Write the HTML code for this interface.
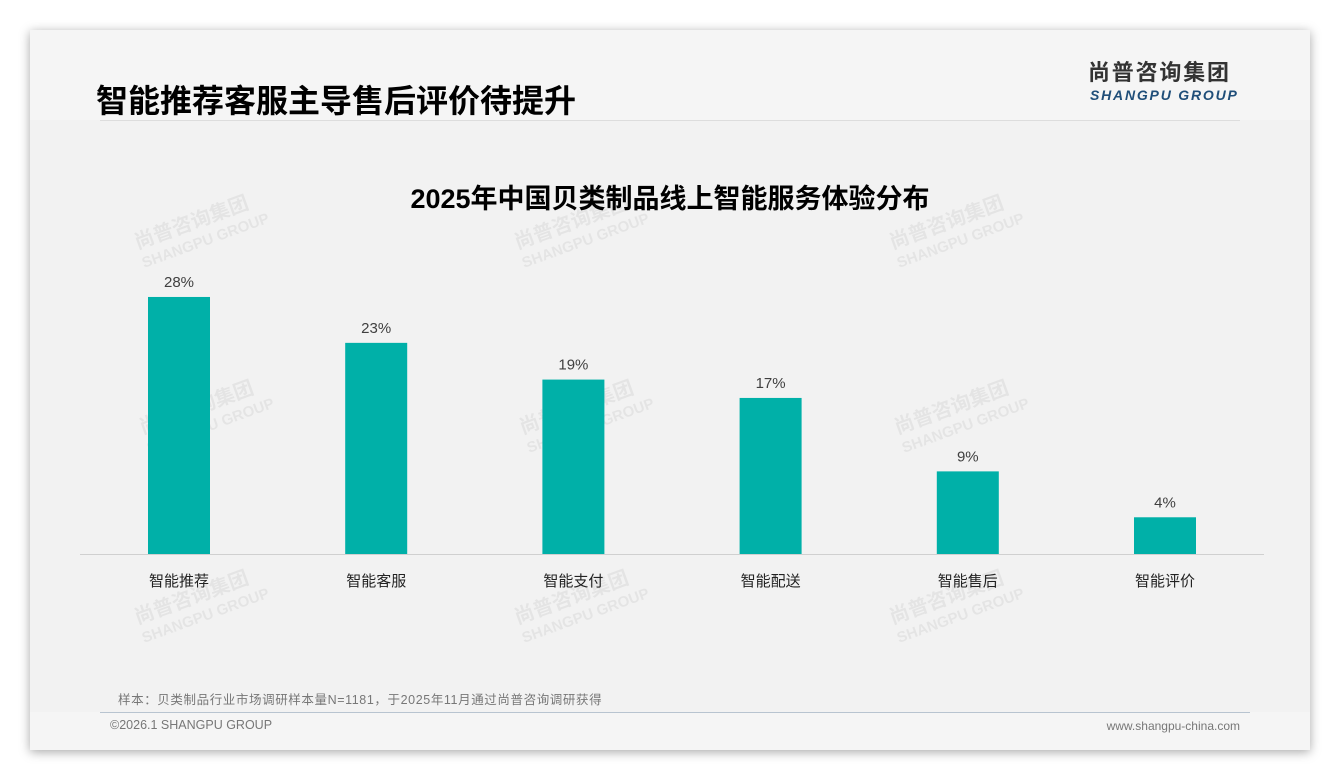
<!DOCTYPE html>
<html><head><meta charset="utf-8"><style>
body{margin:0;width:1340px;height:780px;background:#fff;font-family:"Liberation Sans","Noto Sans CJK SC",sans-serif;position:relative;overflow:hidden}
.slide{position:absolute;left:30px;top:30px;width:1280px;height:720px;background:#f5f5f5;box-shadow:0 2px 10px rgba(0,0,0,.35)}
.body{position:absolute;left:30px;top:120px;width:1280px;height:592px;background:#f2f2f2}
.wm{position:absolute;color:#000;opacity:.05;font-weight:bold;transform:rotate(-20deg);font-size:20px;line-height:20px;white-space:nowrap}
</style></head><body>
<div class="slide"></div>
<div class="body"></div>
<div style="position:absolute;left:96px;top:76px;font-size:32px;font-weight:bold;color:#000">智能推荐客服主导售后评价待提升</div>
<div style="position:absolute;left:1088px;top:60px;font-size:22px;line-height:26px;font-weight:bold;color:#333;letter-spacing:1.8px">尚普咨询集团</div>
<div style="position:absolute;left:1090px;top:87px;font-size:14px;line-height:17px;font-weight:bold;font-style:italic;color:#1f4e79;letter-spacing:1.8px">SHANGPU GROUP</div>
<div style="position:absolute;left:100px;top:120px;width:1140px;height:1px;background:#ddd"></div>
<div style="position:absolute;left:0;width:1340px;top:177px;text-align:center;font-size:27px;font-weight:bold;color:#000">2025年中国贝类制品线上智能服务体验分布</div>
<div class="wm" style="left:135px;top:210px">尚普咨询集团<br><span style="font-size:15px">SHANGPU GROUP</span></div>
<div class="wm" style="left:515px;top:210px">尚普咨询集团<br><span style="font-size:15px">SHANGPU GROUP</span></div>
<div class="wm" style="left:890px;top:210px">尚普咨询集团<br><span style="font-size:15px">SHANGPU GROUP</span></div>
<div class="wm" style="left:140px;top:395px">尚普咨询集团<br><span style="font-size:15px">SHANGPU GROUP</span></div>
<div class="wm" style="left:520px;top:395px">尚普咨询集团<br><span style="font-size:15px">SHANGPU GROUP</span></div>
<div class="wm" style="left:895px;top:395px">尚普咨询集团<br><span style="font-size:15px">SHANGPU GROUP</span></div>
<div class="wm" style="left:135px;top:585px">尚普咨询集团<br><span style="font-size:15px">SHANGPU GROUP</span></div>
<div class="wm" style="left:515px;top:585px">尚普咨询集团<br><span style="font-size:15px">SHANGPU GROUP</span></div>
<div class="wm" style="left:890px;top:585px">尚普咨询集团<br><span style="font-size:15px">SHANGPU GROUP</span></div>
<svg id="chart" width="1340" height="780" style="position:absolute;left:0;top:0"></svg>
<div style="position:absolute;left:118px;top:689px;font-size:12.5px;letter-spacing:0.6px;color:#777">样本：贝类制品行业市场调研样本量N=1181，于2025年11月通过尚普咨询调研获得</div>
<div style="position:absolute;left:100px;top:712px;width:1150px;height:1px;background:#b8c4d0"></div>
<div style="position:absolute;left:110px;top:718px;font-size:12.5px;color:#777">©2026.1 SHANGPU GROUP</div>
<div style="position:absolute;right:100px;top:719px;font-size:12px;color:#777">www.shangpu-china.com</div>
<script>
const categories=["智能推荐","智能客服","智能支付","智能配送","智能售后","智能评价"];
const values=[28,23,19,17,9,4];
const svg=document.getElementById('chart');
const NS='http://www.w3.org/2000/svg';
const baseY=554,pxPer=9.18,x0=179,step=197.2,bw=62;
const yS=v=>baseY-v*pxPer;
const xS=i=>x0+i*step;
const ax=document.createElementNS(NS,'line');
ax.setAttribute('x1',80);ax.setAttribute('x2',1264);ax.setAttribute('y1',baseY+0.5);ax.setAttribute('y2',baseY+0.5);ax.setAttribute('stroke','#d0d0d0');


svg.appendChild(ax);
categories.forEach((c,i)=>{
 const r=document.createElementNS(NS,'rect');
 r.setAttribute('x',xS(i)-bw/2);r.setAttribute('y',yS(values[i]));r.setAttribute('width',bw);r.setAttribute('height',baseY-yS(values[i]));r.setAttribute('fill','#00b0a8');
 
 
 svg.appendChild(r);
 const t=document.createElementNS(NS,'text');
 t.setAttribute('x',xS(i));t.setAttribute('y',yS(values[i])-10);t.setAttribute('text-anchor','middle');t.setAttribute('font-size','15');t.setAttribute('fill','#404040');
 t.textContent=values[i]+'%';
 
 
 svg.appendChild(t);
 const l=document.createElementNS(NS,'text');
 l.setAttribute('x',xS(i));l.setAttribute('y',586);l.setAttribute('text-anchor','middle');l.setAttribute('font-size','15');l.setAttribute('fill','#222');
 l.textContent=c;
 
 
 svg.appendChild(l);
});
</script>
</body></html>
